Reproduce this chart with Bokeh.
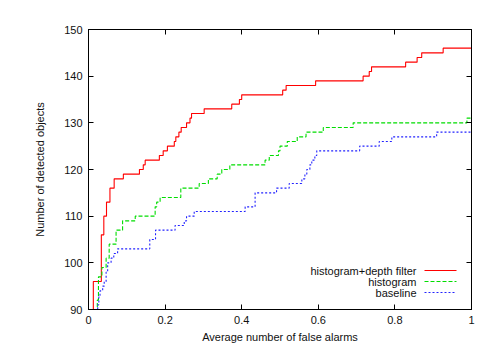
from bokeh.plotting import figure
from bokeh.models import Range1d, FixedTicker, LinearAxis, Label, CustomLabelingPolicy
from bokeh.embed import file_html
from bokeh.resources import INLINE

# ---- data ----
red_x = [0.0, 0.0126, 0.0335, 0.040, 0.047, 0.056, 0.067, 0.091, 0.133, 0.143,
         0.148, 0.185, 0.195, 0.206, 0.224, 0.228, 0.236, 0.242, 0.256, 0.265,
         0.269, 0.302, 0.374, 0.394, 0.400, 0.507, 0.516, 0.593, 0.717, 0.733,
         0.739, 0.828, 0.858, 0.870, 0.926, 1.0]
red_y = [86, 96, 106, 110, 113, 116, 118, 119, 120, 121,
         122, 123, 124, 125, 126, 127, 128, 129, 130, 131,
         132, 133, 134, 135, 136, 137, 138, 139, 140, 141,
         142, 143, 144, 145, 146, 146]

green_x = [0.0, 0.023, 0.026, 0.035, 0.046, 0.054, 0.072, 0.089, 0.122, 0.174,
           0.178, 0.187, 0.241, 0.289, 0.313, 0.336, 0.348, 0.369, 0.461, 0.472,
           0.496, 0.500, 0.519, 0.545, 0.568, 0.613, 0.691, 0.988, 1.0]
green_y = [86, 92, 97, 99, 101, 104, 107, 109, 110, 112,
           113, 114, 116, 117, 118, 119, 120, 121, 122, 123,
           124, 125, 126, 127, 128, 129, 130, 131, 131]

blue_x = [0.0, 0.024, 0.027, 0.030, 0.037, 0.041, 0.046, 0.050, 0.059, 0.066,
          0.076, 0.160, 0.175, 0.226, 0.250, 0.256, 0.276, 0.409, 0.435,
          0.491, 0.524, 0.557, 0.565, 0.570, 0.578, 0.583, 0.591, 0.596, 0.708,
          0.759, 0.792, 0.909, 1.0]
blue_y = [86, 91, 93, 94, 95, 96, 98, 100, 101, 102,
          103, 105, 107, 108, 109, 110, 111, 112, 115,
          116, 117, 118, 119, 120, 121, 122, 123, 124, 125,
          126, 127, 128, 128]

series_names = ["histogram+depth filter", "histogram", "baseline"]
x_ticks = [0, 0.2, 0.4, 0.6, 0.8, 1]
x_tick_labels = ["0", "0.2", "0.4", "0.6", "0.8", "1"]
y_ticks = [90, 100, 110, 120, 130, 140, 150]
y_tick_labels = ["90", "100", "110", "120", "130", "140", "150"]

FONT = "Liberation Sans"
X0, X1, Y0, Y1 = 0, 1, 90, 150

p = figure(width=500, height=353, output_backend="svg", toolbar_location=None,
           x_range=Range1d(X0, X1), y_range=Range1d(Y0, Y1),
           min_border_left=88, min_border_right=29, min_border_top=29,
           min_border_bottom=44)
p.background_fill_color = "white"
p.border_fill_color = "white"
p.outline_line_color = "black"
p.outline_line_width = 1
p.xgrid.visible = False
p.ygrid.visible = False

no_labels = CustomLabelingPolicy(code="""
    for (const i of indices) { indices.unset(i) }
    return indices
""")


def style_axis(ax, ticks, labels, show_labels=True):
    ax.ticker = FixedTicker(ticks=ticks)
    ax.major_label_overrides = {t: l for t, l in zip(ticks, labels)}
    ax.minor_tick_line_color = None
    ax.major_tick_in = 5
    ax.major_tick_out = 0
    ax.major_tick_line_color = "black"
    ax.axis_line_color = "black"
    ax.major_label_text_font = FONT
    ax.major_label_text_font_size = "11px"
    ax.major_label_text_color = "#111111"
    ax.major_label_standoff = 6
    if not show_labels:
        ax.major_label_policy = no_labels


style_axis(p.xaxis[0], x_ticks, x_tick_labels)
style_axis(p.yaxis[0], y_ticks, y_tick_labels)
p.xaxis[0].axis_label = "Average number of false alarms"
p.yaxis[0].axis_label = "Number of detected objects"
for ax in (p.xaxis[0], p.yaxis[0]):
    ax.axis_label_text_font = FONT
    ax.axis_label_text_font_size = "11px"
    ax.axis_label_text_font_style = "normal"
    ax.axis_label_text_color = "#111111"
p.xaxis[0].axis_label_standoff = 4
p.yaxis[0].axis_label_standoff = 15

top_ax = LinearAxis()
style_axis(top_ax, x_ticks, x_tick_labels, show_labels=False)
p.add_layout(top_ax, "above")
right_ax = LinearAxis()
style_axis(right_ax, y_ticks, y_tick_labels, show_labels=False)
p.add_layout(right_ax, "right")

styles = [dict(line_color="#ff0000", line_width=1.1),
          dict(line_color="#00dd00", line_width=1.1, line_dash="4 2"),
          dict(line_color="#2222ff", line_width=1.1, line_dash="2 2")]

for xs, ys, st in zip((red_x, green_x, blue_x), (red_y, green_y, blue_y), styles):
    p.step(xs, ys, mode="after", **st)

# ---- legend (gnuplot style: right-aligned text, line sample on the right) ----
FRAME_W, FRAME_H = 383.0, 280.0          # plot frame size in px
key_text_right = 328                     # px from frame left
key_line = (336, 368)                    # px from frame left
key_rows = (39, 28, 17)                  # px above frame bottom
for name, yoff, st in zip(series_names, key_rows, styles):
    p.add_layout(Label(x=key_text_right, y=yoff, x_units="screen", y_units="screen",
                       text=name, text_align="right", text_baseline="middle",
                       text_font=FONT, text_font_size="11px", text_color="#111111"))
    yy = Y0 + (Y1 - Y0) * yoff / FRAME_H
    xa = X0 + (X1 - X0) * key_line[0] / FRAME_W
    xb = X0 + (X1 - X0) * key_line[1] / FRAME_W
    p.segment(x0=[xa], y0=[yy], x1=[xb], y1=[yy], **st)

open("out.html", "w").write(file_html(p, INLINE))
